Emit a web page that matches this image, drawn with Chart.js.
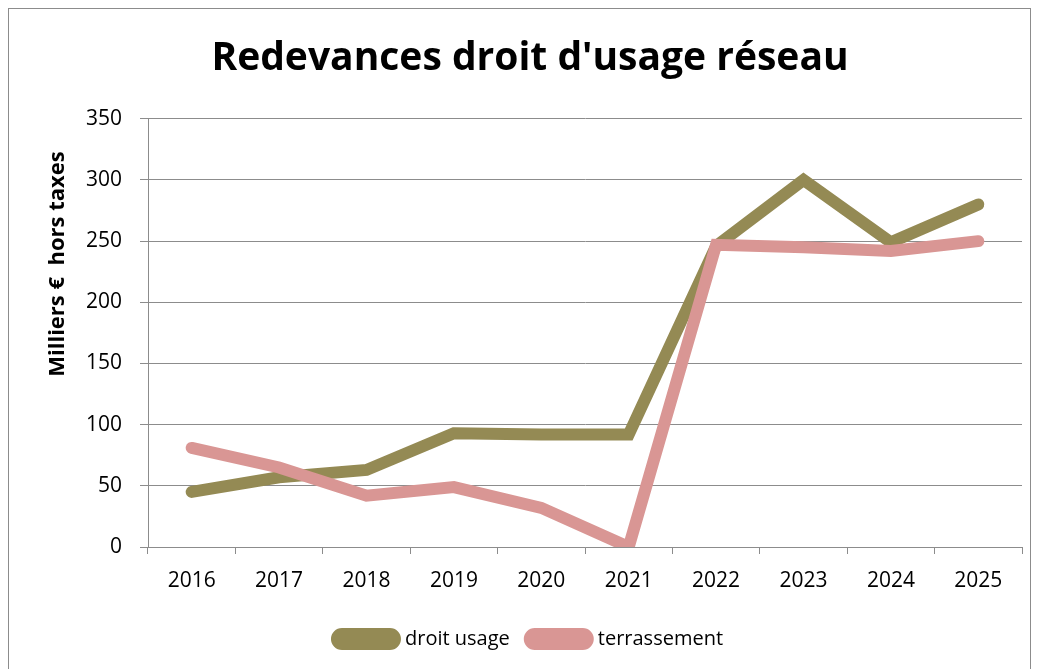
<!DOCTYPE html>
<html>
<head>
<meta charset="utf-8">
<script src="https://cdn.jsdelivr.net/npm/chart.js@4"></script>
<style>
  body { margin: 0; background: #fff; }
  #frame { position: absolute; left: 8px; top: 8px; width: 1021px; height: 700px; border: 1px solid #8c8c8c; }
  #wrap { position: absolute; left: 0; top: 0; width: 1038px; height: 669px; }
</style>
</head>
<body>
<div id="frame"></div>
<div id="wrap"><canvas id="lineChart" width="1038" height="669"></canvas></div>
<script>
const years = ['2016', '2017', '2018', '2019', '2020', '2021', '2022', '2023', '2024', '2025'];
const droitUsage = [45, 57, 63, 93, 92, 92, 246, 300, 249, 280];
const terrassement = [81, 65, 42, 49, 32, 0, 247, 245, 242, 250];
const yTicks = [0, 50, 100, 150, 200, 250, 300, 350];

const font = '"Open Sans", Lato, sans-serif';
const gridColor = '#8c8c8c';

// y axis title drawn by hand so it sits where the original has it
const yTitle = {
    id: 'yTitle',
    afterDraw(chart) {
        const ctx = chart.ctx;
        ctx.save();
        ctx.translate(58, 264);
        ctx.rotate(-Math.PI / 2);
        ctx.font = 'bold 22px ' + font;
        ctx.fillStyle = '#000';
        ctx.textAlign = 'center';
        ctx.textBaseline = 'middle';
        ctx.fillText('Milliers €  hors taxes', 0, 0);
        ctx.restore();
    }
};

new Chart(document.getElementById('lineChart'), {
    type: 'line',
    data: {
        labels: years,
        datasets: [{
            label: 'droit usage',
            data: droitUsage,
            borderColor: '#948a54',
            backgroundColor: '#948a54',
            borderWidth: 12,
            order: 1
        }, {
            label: 'terrassement',
            data: terrassement,
            borderColor: '#d99694',
            backgroundColor: '#d99694',
            borderWidth: 12,
            order: 0
        }]
    },
    options: {
        responsive: false,
        animation: false,
        layout: { padding: { left: 38, right: 16, top: 0, bottom: 10 } },
        elements: {
            point: { radius: 0, hoverRadius: 0 },
            line: { tension: 0, borderCapStyle: 'round', borderJoinStyle: 'miter' }
        },
        plugins: {
            title: {
                display: true,
                text: "Redevances droit d'usage réseau",
                color: '#000',
                font: { family: font, size: 39, weight: 'bold' },
                padding: { top: 35, bottom: 37 }
            },
            legend: {
                position: 'bottom',
                labels: {
                    color: '#000',
                    font: { family: font, size: 20 },
                    boxWidth: 58,
                    boxHeight: 10,
                    useBorderRadius: true,
                    borderRadius: 5,
                    padding: 20,
                    sort: (a, b) => a.datasetIndex - b.datasetIndex
                }
            },
            tooltip: { enabled: false }
        },
        scales: {
            x: {
                offset: true,
                grid: { offset: true, drawOnChartArea: false, drawTicks: true, tickLength: 7, color: gridColor },
                border: { color: gridColor, width: 1 },
                ticks: { color: '#000', font: { family: font, size: 21 }, padding: 14, maxRotation: 0 },
                afterFit: (scale) => { scale.height = 62; }
            },
            y: {
                min: 0,
                max: 350,
                afterBuildTicks: (scale) => { scale.ticks = yTicks.map(v => ({ value: v })); },
                grid: { color: gridColor, tickLength: 8 },
                border: { color: gridColor, width: 1 },
                ticks: { color: '#000', font: { family: font, size: 21 }, padding: 18 },
                afterFit: (scale) => { scale.width = 110; }
            }
        }
    },
    plugins: [yTitle]
});
</script>
</body>
</html>
